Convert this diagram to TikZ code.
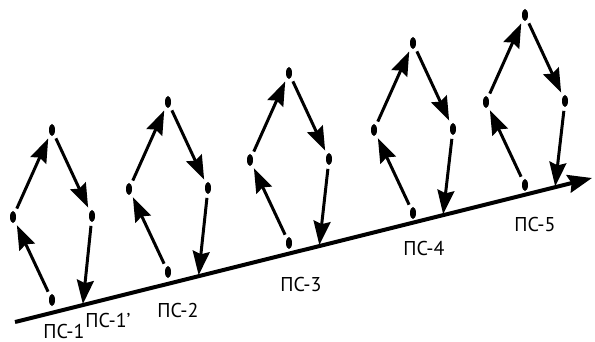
\documentclass[tikz,border=0pt]{standalone}
\usepackage{fontspec}
\setmainfont{PT Sans}
\usetikzlibrary{arrows.meta, shapes.geometric, calc}

\begin{document}
\begin{tikzpicture}[
  x=1pt, y=-1pt, >={Stealth[length=24pt, width=17pt, inset=3pt]},
  dot/.style={ellipse, fill=black, minimum width=6pt, minimum height=12pt,
              inner sep=0pt, outer sep=4pt},
  flow/.style={->, line width=3pt},
  lbl/.style={font=\fontsize{20}{20}\selectfont, inner sep=0pt},
]
  \useasboundingbox (0,0) rectangle (595,342);
  \coordinate (s) at (15,322);
  \coordinate (e) at (592,178);
  \draw[line width=4pt, -{Stealth[length=24pt, width=18pt, inset=3pt]}] (s) -- (e);

  \foreach \n/\x/\y in {1/52/130, 2/168/102, 3/289/73, 4/413/43, 5/525/15} {
    \node[dot] (t\n) at (\x,\y) {};
    \node[dot] (l\n) at (\x-39,\y+87) {};
    \node[dot] (r\n) at (\x+40,\y+86) {};
    \node[dot] (b\n) at (\x,\y+170) {};
    \coordinate (f\n) at ($(s)!(\x+30,\y+172)!(e)$);
    \draw[flow] (b\n) -- (l\n);
    \draw[flow] (l\n) -- (t\n);
    \draw[flow] (t\n) -- (r\n);
    \draw[flow, shorten >=1pt] (r\n) -- (f\n);
  }

  \node[lbl] (p1) at (64,331) {ПС-1};
  \node[lbl] (p1a) at (108,320) {ПС-1’};
  \node[lbl] (p2) at (178,310) {ПС-2};
  \node[lbl] (p3) at (301,284) {ПС-3};
  \node[lbl] (p4) at (424,248) {ПС-4};
  \node[lbl] (p5) at (535,225) {ПС-5};
\end{tikzpicture}
\end{document}
